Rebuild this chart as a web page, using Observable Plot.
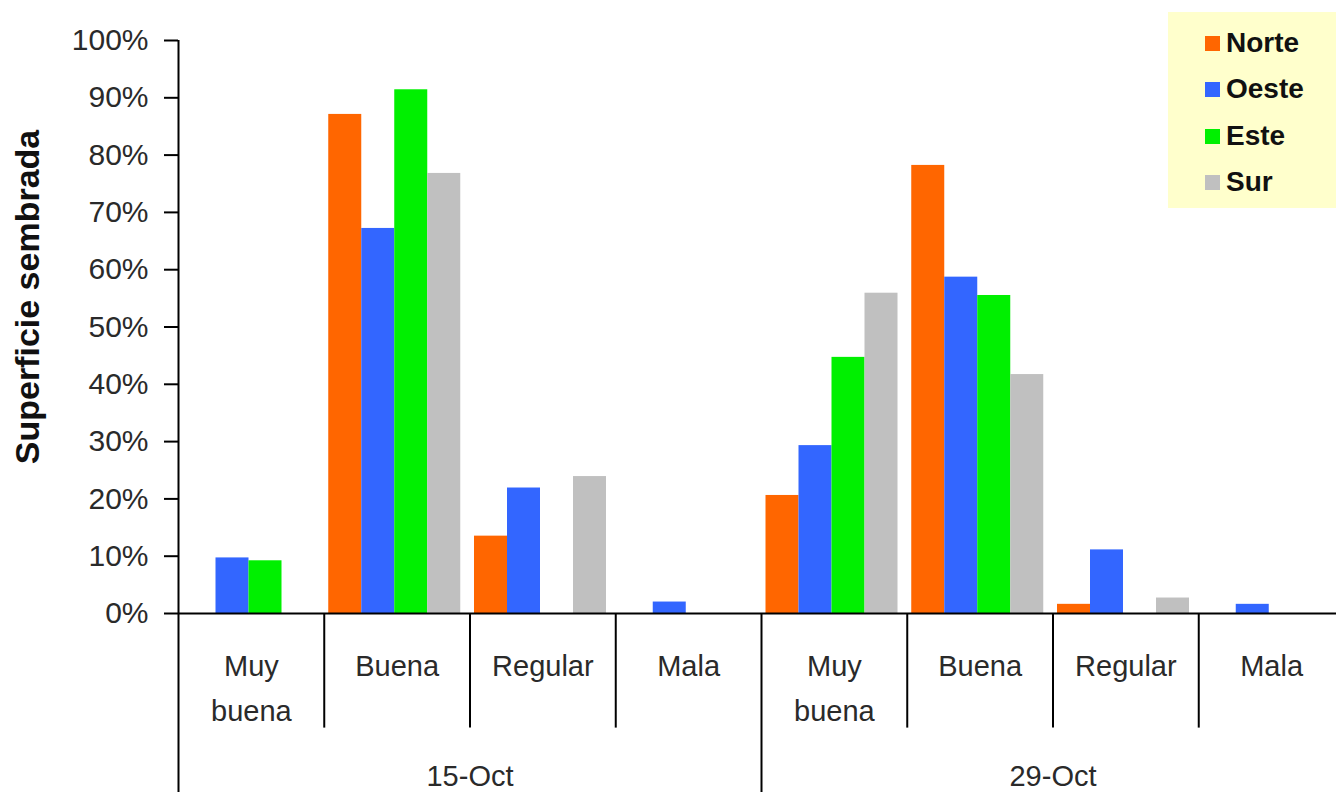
<!DOCTYPE html>
<html>
<head>
<meta charset="utf-8">
<script src="https://cdn.jsdelivr.net/npm/d3@7"></script>
<script src="https://cdn.jsdelivr.net/npm/@observablehq/plot@0.6"></script>
<style>
  html, body { margin: 0; padding: 0; background: #fff; }
  #wrap { position: relative; width: 1336px; height: 792px; overflow: hidden; }
  #legend { position: absolute; left: 1168px; top: 12px; width: 168px; height: 196px; background: #FFFFCC;
            font-family: "Liberation Sans", Arial, sans-serif; font-weight: bold; font-size: 28px; color: #111; }
  .item { position: absolute; left: 37px; height: 30px; display: flex; align-items: center; }
  .sw { width: 15px; height: 15px; margin-right: 6px; }
</style>
</head>
<body>
<div id="wrap"><div id="legend"></div></div>
<script>
// ---- data ----
const dates = ["15-Oct", "29-Oct"];
const categories = ["Muy buena", "Buena", "Regular", "Mala"];
const series = ["Norte", "Oeste", "Este", "Sur"];
const colors = ["#FF6600", "#3366FF", "#00F000", "#C0C0C0"];
// values in %, order: 15-Oct (Muy buena, Buena, Regular, Mala), 29-Oct (same)
const norte = [0, 87.1, 13.5, 0, 20.6, 78.2, 1.6, 0];
const oeste = [9.7, 67.2, 21.9, 2.0, 29.3, 58.7, 11.1, 1.6];
const este  = [9.2, 91.4, 0, 0, 44.7, 55.5, 0, 0];
const sur   = [0, 76.8, 23.9, 0, 55.9, 41.7, 2.7, 0];
const yTicks = [0, 10, 20, 30, 40, 50, 60, 70, 80, 90, 100];
const yTitle = "Superficie sembrada";

// ---- build table ----
const seriesValues = [norte, oeste, este, sur];
const keys = dates.flatMap(d => categories.map(c => d + "|" + c));
const rows = series.flatMap((s, i) => keys.map((k, j) => ({key: k, series: s, value: seriesValues[i][j]})));
const catRows = keys.map(k => ({key: k, label: k.split("|")[1].replace(" ", "\n")}));
const dateRows = dates.map((d, i) => ({key: keys[i * 4 + 2], label: d}));

// ---- layout ----
const W = 1336, H = 792, ML = 178, MR = -8, MT = 40, MB = 179;
const bw = (W - ML - MR) / keys.length;
const barW = 33, offL = 4.5;

const marks = [
  ...series.map((s, i) => Plot.barY(rows.filter(r => r.series === s), {
    x: "key", y: "value", fill: "series",
    insetLeft: offL + i * barW, insetRight: bw - offL - (i + 1) * barW
  })),
  Plot.ruleY([0], {stroke: "#000", strokeWidth: 2}),
  // inner category separators
  Plot.ruleX(keys.filter((k, i) => i % 4 !== 0), {x: d => d, y1: () => 0, y2: () => -20, dx: -bw / 2, stroke: "#000", strokeWidth: 2}),
  // date separators
  Plot.ruleX([keys[4]], {x: d => d, y1: () => 0, y2: () => -33, dx: -bw / 2, stroke: "#000", strokeWidth: 2}),
  // y axis line
  Plot.ruleX([keys[0]], {x: d => d, y1: () => 100, y2: () => -33, dx: -bw / 2, stroke: "#000", strokeWidth: 2}),
  Plot.axisY({ticks: yTicks, tickFormat: d => d + "%", tickSize: 14, tickPadding: 16, fontSize: 30, label: null, strokeWidth: 2, stroke: "#000", fill: "#2a2a2a"}),
  Plot.text(catRows, {x: "key", text: "label", frameAnchor: "bottom", lineAnchor: "top", dy: 31, fontSize: 29, lineHeight: 1.55, fill: "#2a2a2a"}),
  Plot.text(dateRows, {x: "key", text: "label", frameAnchor: "bottom", lineAnchor: "middle", dy: 163, dx: -bw / 2, fontSize: 29, fill: "#2a2a2a"}),
  Plot.text([yTitle], {text: d => d, frameAnchor: "left", textAnchor: "middle", lineAnchor: "middle", rotate: -90, dx: -150, dy: -30, fontSize: 34, fontWeight: "bold", fill: "#111"})
];

const chart = Plot.plot({
  width: W, height: H,
  marginLeft: ML, marginRight: MR, marginTop: MT, marginBottom: MB,
  style: {fontFamily: "'Liberation Sans', Arial, sans-serif", background: "#fff", color: "#111"},
  x: {type: "band", domain: keys, padding: 0, round: false, axis: null},
  y: {domain: [0, 100], axis: null},
  color: {domain: series, range: colors},
  marks
});
document.getElementById("wrap").prepend(chart);

// ---- legend ----
const legend = document.getElementById("legend");
const centers = [31, 77, 124, 170];
series.forEach((s, i) => {
  const it = document.createElement("div");
  it.className = "item";
  it.style.top = (centers[i] - 15) + "px";
  it.innerHTML = `<span class="sw" style="background:${colors[i]}"></span><span>${s}</span>`;
  legend.appendChild(it);
});
</script>
</body>
</html>
